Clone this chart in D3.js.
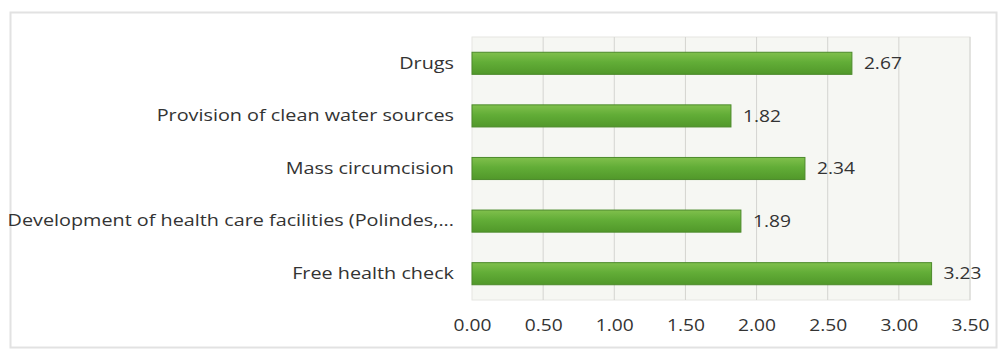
<!DOCTYPE html>
<html>
<head>
<meta charset="utf-8">
<script src="https://cdn.jsdelivr.net/npm/d3@7"></script>
<style>
body { margin: 0; background: #ffffff; }
svg text { font-family: "Open Sans", "DejaVu Sans", sans-serif; }
</style>
</head>
<body>
<div id="chart"></div>
<script>
// data, top to bottom as in the picture
var categories = ["Drugs", "Provision of clean water sources", "Mass circumcision",
	"Development of health care facilities (Polindes,...", "Free health check"];
var values = [2.67, 1.82, 2.34, 1.89, 3.23];
var tickValues = [0, 0.5, 1, 1.5, 2, 2.5, 3, 3.5];

var W = 1006, H = 352;
var sx = 1.2; // the picture's text is a bit stretched sideways
var svg = d3.select("#chart").append("svg")
	.attr("width", W)
	.attr("height", H);

// outer chart frame
svg.append("rect")
	.attr("x", 10.5).attr("y", 12.5)
	.attr("width", 986).attr("height", 335)
	.attr("fill", "#ffffff")
	.attr("stroke", "#e2e2e2")
	.attr("stroke-width", 2);

var plot = {left: 472, right: 970, top: 37, bottom: 300};

var x = d3.scaleLinear().domain([0, 3.5]).range([plot.left, plot.right]);
var y = d3.scaleBand().domain(categories).range([plot.top, plot.bottom]).paddingInner(0.58).paddingOuter(0.29);

// plot area background
svg.append("rect")
	.attr("x", plot.left).attr("y", plot.top)
	.attr("width", plot.right - plot.left).attr("height", plot.bottom - plot.top)
	.attr("fill", "#f6f7f3")
	.attr("stroke", "#e6e6e2");

var defs = svg.append("defs");
var grad = defs.append("linearGradient")
	.attr("id", "barGrad")
	.attr("x1", 0).attr("y1", 0).attr("x2", 0).attr("y2", 1);
grad.append("stop").attr("offset", "0%").attr("stop-color", "#80c04c");
grad.append("stop").attr("offset", "45%").attr("stop-color", "#62ad37");
grad.append("stop").attr("offset", "100%").attr("stop-color", "#51982a");

// gridlines
svg.append("g")
	.selectAll("line")
	.data(tickValues.slice(1))
	.enter().append("line")
	.attr("x1", function(d) { return x(d); })
	.attr("x2", function(d) { return x(d); })
	.attr("y1", plot.top)
	.attr("y2", plot.bottom)
	.attr("stroke", "#d4d4d0")
	.attr("stroke-width", 1);

// bars
svg.append("g")
	.selectAll("rect")
	.data(values)
	.enter().append("rect")
	.attr("x", x(0))
	.attr("y", function(d, i) { return y(categories[i]); })
	.attr("width", function(d) { return x(d) - x(0); })
	.attr("height", y.bandwidth())
	.attr("fill", "url(#barGrad)")
	.attr("stroke", "#4c8a2a")
	.attr("stroke-width", 1);

// value labels
svg.append("g")
	.selectAll("text")
	.data(values)
	.enter().append("text")
	.attr("transform", function(d, i) {
		return "translate(" + (x(d) + 12) + "," + (y(categories[i]) + y.bandwidth() / 2) + ") scale(" + sx + ",1)";
	})
	.attr("dy", "0.35em")
	.attr("font-size", 16)
	.attr("fill", "#333333")
	.text(function(d) { return d.toFixed(2); });

// category axis
var yAxis = svg.append("g")
	.attr("transform", "translate(" + (plot.left - 2) + ",0)")
	.call(d3.axisLeft(y).tickSize(0).tickPadding(16));
yAxis.select(".domain").attr("stroke", "#ffffff");
yAxis.selectAll("text")
	.attr("x", -16 / sx)
	.attr("transform", "scale(" + sx + ",1)")
	.attr("font-size", 16.5)
	.attr("fill", "#333333");

// value axis
var xAxis = svg.append("g")
	.attr("transform", "translate(0," + plot.bottom + ")")
	.call(d3.axisBottom(x).tickValues(tickValues).tickFormat(d3.format(".2f")).tickSize(0).tickPadding(20));
xAxis.select(".domain").remove();
xAxis.selectAll("text")
	.attr("transform", "scale(" + sx + ",1)")
	.attr("x", function(d) { return 0; })
	.attr("font-size", 16)
	.attr("fill", "#333333");
</script>
</body>
</html>
